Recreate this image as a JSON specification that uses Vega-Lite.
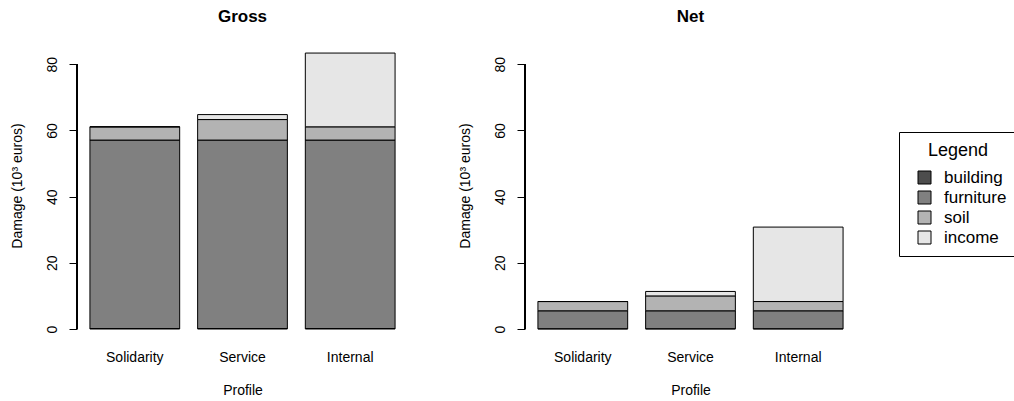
{
  "$schema": "https://vega.github.io/schema/vega-lite/v6.json",
  "background": "white",
  "padding": {"left": 10, "top": 8, "right": 0, "bottom": 0},
  "config": {
    "font": "Liberation Sans",
    "view": {"stroke": null},
    "axis": {"labelFontSize": 14, "titleFontSize": 14, "titleFontWeight": "normal", "labelColor": "black", "titleColor": "black", "grid": false},
    "legend": {"labelFontSize": 17, "titleFontSize": 18, "titleFontWeight": "normal", "labelColor": "black", "titleColor": "black"}
  },
  "datasets": {
    "dmg": [
      {"panel": "Gross", "profile": "Solidarity", "type": "building", "value": 0.15},
      {"panel": "Gross", "profile": "Solidarity", "type": "furniture", "value": 56.95},
      {"panel": "Gross", "profile": "Solidarity", "type": "soil", "value": 4.0},
      {"panel": "Gross", "profile": "Solidarity", "type": "income", "value": 0},
      {"panel": "Gross", "profile": "Service", "type": "building", "value": 0.15},
      {"panel": "Gross", "profile": "Service", "type": "furniture", "value": 56.95},
      {"panel": "Gross", "profile": "Service", "type": "soil", "value": 6.2},
      {"panel": "Gross", "profile": "Service", "type": "income", "value": 1.5},
      {"panel": "Gross", "profile": "Internal", "type": "building", "value": 0.15},
      {"panel": "Gross", "profile": "Internal", "type": "furniture", "value": 56.95},
      {"panel": "Gross", "profile": "Internal", "type": "soil", "value": 4.0},
      {"panel": "Gross", "profile": "Internal", "type": "income", "value": 22.3},
      {"panel": "Net", "profile": "Solidarity", "type": "building", "value": 0.1},
      {"panel": "Net", "profile": "Solidarity", "type": "furniture", "value": 5.4},
      {"panel": "Net", "profile": "Solidarity", "type": "soil", "value": 2.8},
      {"panel": "Net", "profile": "Solidarity", "type": "income", "value": 0},
      {"panel": "Net", "profile": "Service", "type": "building", "value": 0.1},
      {"panel": "Net", "profile": "Service", "type": "furniture", "value": 5.4},
      {"panel": "Net", "profile": "Service", "type": "soil", "value": 4.5},
      {"panel": "Net", "profile": "Service", "type": "income", "value": 1.35},
      {"panel": "Net", "profile": "Internal", "type": "building", "value": 0.1},
      {"panel": "Net", "profile": "Internal", "type": "furniture", "value": 5.4},
      {"panel": "Net", "profile": "Internal", "type": "soil", "value": 2.8},
      {"panel": "Net", "profile": "Internal", "type": "income", "value": 22.5}
    ]
  },
  "spacing": 50,
  "hconcat": [
    {
      "data": {"name": "dmg"},
      "transform": [{"filter": "datum.panel === 'Gross'"}, {"calculate": "indexof(['building','furniture','soil','income'], datum.type)", "as": "rank"}],
      "title": {"text": "Gross", "fontWeight": "bold", "fontSize": 17, "frame": "group", "anchor": "middle", "offset": 16, "color": "black"},
      "width": 331,
      "height": 287,
      "layer": [
        {
          "mark": {"type": "bar", "stroke": "black", "strokeWidth": 1},
          "encoding": {
            "x": {"field": "profile", "type": "nominal", "sort": ["Solidarity", "Service", "Internal"], "scale": {"paddingInner": 0.1667, "paddingOuter": 0.12}, "axis": {"title": "Profile", "labelAngle": 0, "domain": false, "ticks": false, "tickSize": 0, "labelPadding": 21, "titlePadding": 19}},
            "y": {"field": "value", "type": "quantitative", "stack": "zero", "scale": {"domain": [0, 86.74], "nice": false}, "axis": {"title": "Damage (10³ euros)", "values": [0, 20, 40, 60, 80], "domain": false, "tickSize": 8, "tickColor": "black", "labelAngle": -90, "labelAlign": "center", "labelBaseline": "alphabetic", "labelPadding": 13, "titlePadding": 21}},
            "order": {"field": "rank", "type": "quantitative"},
            "color": {"field": "type", "type": "nominal", "sort": ["building", "furniture", "soil", "income"], "scale": {"domain": ["building", "furniture", "soil", "income"], "range": ["#4D4D4D", "#808080", "#B3B3B3", "#E6E6E6"]}, "legend": {"title": "Legend", "orient": "none", "legendX": 822, "legendY": 90, "strokeColor": "black", "fillColor": "white", "padding": 10, "symbolOffset": 7, "symbolType": "square", "symbolSize": 169, "symbolStrokeColor": "black", "symbolStrokeWidth": 1, "labelOffset": 11, "titleAnchor": "middle", "titlePadding": 9, "rowPadding": 2}}
          }
        },
        {
          "mark": {"type": "rule", "color": "black", "strokeWidth": 1},
          "encoding": {"x": {"datum": "Solidarity", "bandPosition": -0.144}, "y": {"datum": 0}, "y2": {"datum": 80}}
        }
      ]
    },
    {
      "data": {"name": "dmg"},
      "transform": [{"filter": "datum.panel === 'Net'"}, {"calculate": "indexof(['building','furniture','soil','income'], datum.type)", "as": "rank"}],
      "title": {"text": "Net", "fontWeight": "bold", "fontSize": 17, "frame": "group", "anchor": "middle", "offset": 16, "color": "black"},
      "width": 331,
      "height": 287,
      "layer": [
        {
          "mark": {"type": "bar", "stroke": "black", "strokeWidth": 1},
          "encoding": {
            "x": {"field": "profile", "type": "nominal", "sort": ["Solidarity", "Service", "Internal"], "scale": {"paddingInner": 0.1667, "paddingOuter": 0.12}, "axis": {"title": "Profile", "labelAngle": 0, "domain": false, "ticks": false, "tickSize": 0, "labelPadding": 21, "titlePadding": 19}},
            "y": {"field": "value", "type": "quantitative", "stack": "zero", "scale": {"domain": [0, 86.74], "nice": false}, "axis": {"title": "Damage (10³ euros)", "values": [0, 20, 40, 60, 80], "domain": false, "tickSize": 8, "tickColor": "black", "labelAngle": -90, "labelAlign": "center", "labelBaseline": "alphabetic", "labelPadding": 13, "titlePadding": 21}},
            "order": {"field": "rank", "type": "quantitative"},
            "color": {"field": "type", "type": "nominal", "sort": ["building", "furniture", "soil", "income"], "scale": {"domain": ["building", "furniture", "soil", "income"], "range": ["#4D4D4D", "#808080", "#B3B3B3", "#E6E6E6"]}, "legend": {"title": "Legend", "orient": "none", "legendX": 822, "legendY": 90, "strokeColor": "black", "fillColor": "white", "padding": 10, "symbolOffset": 7, "symbolType": "square", "symbolSize": 169, "symbolStrokeColor": "black", "symbolStrokeWidth": 1, "labelOffset": 11, "titleAnchor": "middle", "titlePadding": 9, "rowPadding": 2}}
          }
        },
        {
          "mark": {"type": "rule", "color": "black", "strokeWidth": 1},
          "encoding": {"x": {"datum": "Solidarity", "bandPosition": -0.144}, "y": {"datum": 0}, "y2": {"datum": 80}}
        }
      ]
    }
  ]
}
